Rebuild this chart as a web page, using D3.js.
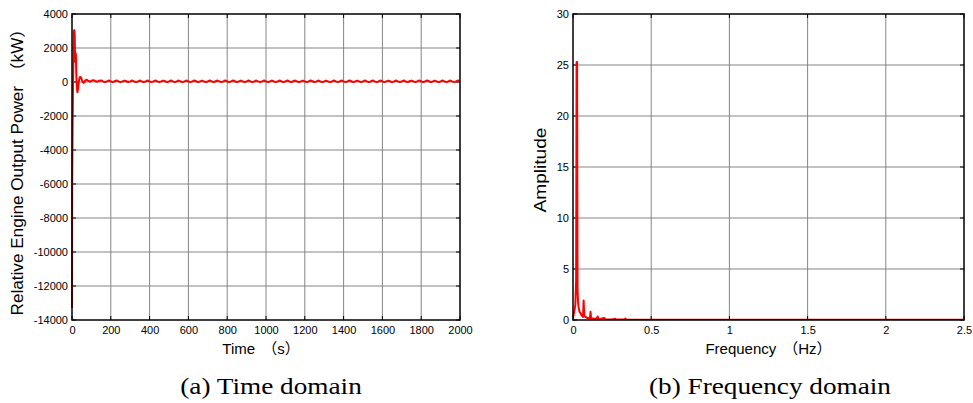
<!DOCTYPE html>
<html><head><meta charset="utf-8">
<script src="https://cdn.jsdelivr.net/npm/d3@7/dist/d3.min.js"></script>
<style>
body{margin:0;background:#fff;}
svg{display:block;}
.tick text{font-family:"Liberation Sans",Arial,sans-serif;font-size:11px;fill:#000;}
</style></head>
<body><svg id="c" width="973" height="403"></svg>
<script>
// ---------- DATA ----------
// (a) time domain: transient part
const transientTime  = [0, 1, 3, 5, 7, 9, 12, 14, 16, 18, 20, 22, 25, 28, 31, 34, 37, 41, 45, 50, 55, 60, 66, 72, 78, 85, 92, 100, 110, 120, 130, 140, 150];
const transientPower = [-13300, -6000, -2800, -500, 1000, 3000, 3050, 2800, 1200, 1700, 1650, 500, -300, -600, -420, -100, 150, 300, 280, 150, 0, -50, 50, 130, 120, 60, 20, 70, 110, 60, 15, 80, 95];
// (a) steady ripple, sampled every 10 s from 160 s to 2000 s
const rippleStart = 160, rippleStep = 10;
const ripplePower = [
 40,-5,40,85, 40,-4,41,86, 39,-5,40,84, 41,-3,40,86, 40,-6,39,85,
 40,-5,41,87, 39,-4,40,85, 40,-5,40,84, 41,-4,39,86, 40,-5,40,85,
 39,-6,41,86, 40,-4,40,85, 41,-5,39,84, 40,-5,40,86, 40,-4,41,85,
 39,-5,40,87, 40,-6,40,85, 41,-4,39,84, 40,-5,40,86, 40,-5,41,85,
 39,-4,40,86, 40,-5,40,84, 41,-6,39,85, 40,-5,40,86, 40,-4,41,85,
 39,-5,40,84, 40,-5,40,86, 41,-4,39,85, 40,-6,40,84, 40,-5,41,86,
 39,-4,40,85, 40,-5,40,86, 41,-5,39,84, 40,-4,40,85, 40,-6,41,86,
 39,-5,40,85, 40,-4,40,84, 41,-5,39,86, 40,-5,40,85, 40,-4,41,84,
 39,-5,40,86, 40,-6,40,85, 41,-4,39,84, 40,-5,40,86, 40,-5,41,85,
 39,-4,40,86, 40
];
const timeTicks  = [0,200,400,600,800,1000,1200,1400,1600,1800,2000];
const powerTicks = [-14000,-12000,-10000,-8000,-6000,-4000,-2000,0,2000,4000];

// (b) frequency domain
const freqHz    = [0, 0.005, 0.010, 0.015, 0.020, 0.023, 0.026, 0.029, 0.032, 0.036, 0.042, 0.050, 0.058, 0.064, 0.068, 0.072, 0.080, 0.090, 0.100, 0.108, 0.112, 0.116, 0.130, 0.150, 0.158, 0.162, 0.180, 0.200, 0.205, 0.210, 0.250, 0.270, 0.275, 0.300, 0.330, 0.335, 0.340, 0.500, 1.000, 2.500];
const amplitude = [0.2, 0.6, 1.0, 1.5, 4.0, 25.3, 25.3, 3.0, 1.8, 1.2, 0.8, 0.6, 0.4, 0.3, 1.9, 0.4, 0.3, 0.2, 0.2, 0.15, 0.8, 0.15, 0.15, 0.1, 0.35, 0.1, 0.12, 0.2, 0.1, 0.05, 0.05, 0.12, 0.05, 0.04, 0.05, 0.15, 0.05, 0.03, 0.02, 0.02];
const freqTicks = [0, 0.5, 1, 1.5, 2, 2.5];
const ampTicks  = [0, 5, 10, 15, 20, 25, 30];

// ---------- DRAW ----------
const svg = d3.select("#c");
const sans = '"Liberation Sans",Arial,sans-serif';
const cjk = '"Noto Sans CJK SC",sans-serif';
const serif = '"Liberation Serif","Times New Roman",serif';

const timeData = transientTime.map((t,i)=>({x:t,y:transientPower[i]}))
  .concat(ripplePower.map((v,i)=>({x:rippleStart+i*rippleStep,y:v})));
const freqData = freqHz.map((f,i)=>({x:f,y:amplitude[i]}));

// write a label where full-width brackets use a CJK font (with full-width spacing)
function richText(sel, str, gap){
  const parts = str.split(/([（）])/).filter(s=>s.length);
  parts.forEach(p=>{
    const t = sel.append("tspan").attr("font-family", /[（）]/.test(p)?cjk:sans).text(p);
    if (p==="（" && gap) t.attr("dx",gap);
  });
}

function panel(o){
  const x = d3.scaleLinear().domain(o.xd).range([o.x0,o.x1]);
  const y = d3.scaleLinear().domain(o.yd).range([o.y1,o.y0]);
  const g = svg.append("g");
  // grid
  g.selectAll(".gx").data(o.xt.slice(1,-1)).join("line")
    .attr("x1",d=>x(d)).attr("x2",d=>x(d)).attr("y1",o.y0).attr("y2",o.y1)
    .attr("stroke","#858585").attr("stroke-width",1);
  g.selectAll(".gy").data(o.yt.slice(1,-1)).join("line")
    .attr("y1",d=>y(d)).attr("y2",d=>y(d)).attr("x1",o.x0).attr("x2",o.x1)
    .attr("stroke","#858585").attr("stroke-width",1);
  // inner ticks
  const tl=4;
  o.xt.forEach(d=>{
    g.append("line").attr("x1",x(d)).attr("x2",x(d)).attr("y1",o.y1).attr("y2",o.y1-tl).attr("stroke","#000");
    g.append("line").attr("x1",x(d)).attr("x2",x(d)).attr("y1",o.y0).attr("y2",o.y0+tl).attr("stroke","#000");
  });
  o.yt.forEach(d=>{
    g.append("line").attr("y1",y(d)).attr("y2",y(d)).attr("x1",o.x0).attr("x2",o.x0+tl).attr("stroke","#000");
    g.append("line").attr("y1",y(d)).attr("y2",y(d)).attr("x1",o.x1).attr("x2",o.x1-tl).attr("stroke","#000");
  });
  // data line
  const cid = "clip"+o.id;
  svg.append("clipPath").attr("id",cid).append("rect")
    .attr("x",o.x0-1).attr("y",o.y0).attr("width",o.x1-o.x0+2).attr("height",o.y1-o.y0);
  g.append("path").datum(o.data).attr("clip-path",`url(#${cid})`)
    .attr("fill","none").attr("stroke","#ff0000").attr("stroke-width",2).attr("stroke-linejoin","round")
    .attr("d",d3.line().x(d=>x(d.x)).y(d=>y(d.y)));
  // box
  g.append("rect").attr("x",o.x0).attr("y",o.y0).attr("width",o.x1-o.x0).attr("height",o.y1-o.y0)
    .attr("fill","none").attr("stroke","#000").attr("stroke-width",1.5);
  // tick labels via d3 axes
  const ax = g.append("g").attr("transform",`translate(0,${o.y1})`)
    .call(d3.axisBottom(x).tickValues(o.xt).tickFormat(d=>String(d)).tickSize(0).tickPadding(6));
  ax.select(".domain").remove();
  const ay = g.append("g").attr("transform",`translate(${o.x0},0)`)
    .call(d3.axisLeft(y).tickValues(o.yt).tickFormat(d=>String(d)).tickSize(0).tickPadding(4));
  ay.select(".domain").remove();
  // x title
  const xt = g.append("text").attr("x",(o.x0+o.x1)/2+o.xlDx).attr("y",354).attr("text-anchor","middle")
    .attr("font-family",sans).attr("font-size",15);
  richText(xt, o.xl, 7);
  // y title
  const yt = g.append("text").attr("transform",`translate(${o.ylx},${o.ylc}) rotate(-90)`)
    .attr("text-anchor","middle").attr("font-family",sans).attr("font-size",16)
    .attr("textLength",o.ylLen).attr("lengthAdjust","spacingAndGlyphs");
  richText(yt, o.yl, 6);
  // caption
  g.append("text").attr("transform",`translate(${o.capx},394) scale(1.135,1)`).attr("text-anchor","middle")
    .attr("font-family",serif).attr("font-size",24).text(o.cap);
}

panel({id:"a",x0:72,x1:460,y0:14,y1:320,xd:[0,2000],yd:[-14000,4000],
  xt:timeTicks,yt:powerTicks,data:timeData,
  xl:"Time（s）",xlDx:-5,yl:"Relative Engine Output Power（kW）",ylx:23,ylc:168,ylLen:295,
  cap:"(a) Time domain",capx:271});
panel({id:"b",x0:573,x1:964,y0:14,y1:320,xd:[0,2.5],yd:[0,30],
  xt:freqTicks,yt:ampTicks,data:freqData,
  xl:"Frequency（Hz）",xlDx:0,yl:"Amplitude",ylx:546,ylc:170,ylLen:85,
  cap:"(b) Frequency domain",capx:770});
</script></body></html>
